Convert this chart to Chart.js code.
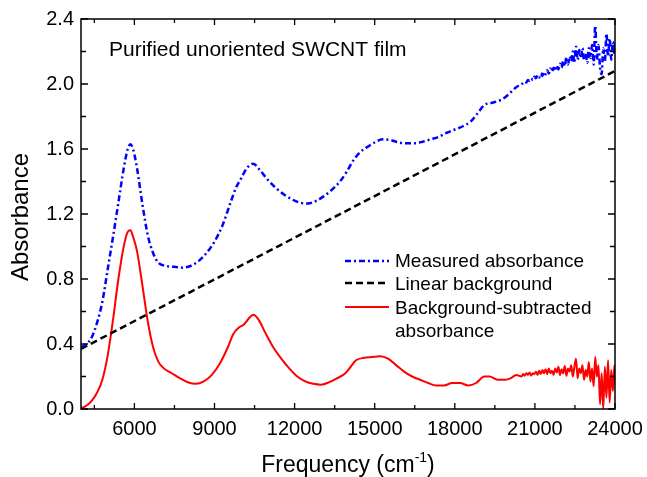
<!DOCTYPE html>
<html>
<head>
<meta charset="utf-8">
<script src="https://cdn.jsdelivr.net/npm/chart.js@4.4.1/dist/chart.umd.min.js"></script>
<style>
  html, body { margin: 0; padding: 0; background: #fff; }
  #wrap { width: 647px; height: 477px; }
</style>
</head>
<body>
<div id="wrap"><canvas id="absChart" width="647" height="477"></canvas></div>
<script>
// axis tick labels
const freqTicks = [6000, 9000, 12000, 15000, 18000, 21000, 24000];
const absTicks = [0.0, 0.4, 0.8, 1.2, 1.6, 2.0, 2.4];

// measured absorbance (blue, dash-dot)
const measuredFreq = [4000, 4200, 4400, 4600, 4800, 5000, 5200, 5400, 5600, 5750, 5850, 5950, 6100, 6300, 6500, 6700, 6900, 7200, 7500, 7800,
  8100, 8400, 8700, 9000, 9300, 9600, 9800, 10000, 10200, 10450, 10700, 11000, 11300, 11600, 11900, 12200, 12500, 12800, 13100, 13400,
  13700, 13950, 14200, 14450, 14700, 15000, 15300, 15600, 15900, 16200, 16500, 16800, 17100, 17400, 17700, 18000, 18300, 18600, 18900, 19100,
  19400, 19700, 19900, 20100, 20300,
  20500, 20560, 20620, 20680, 20740, 20800, 20860, 20920, 20980, 21040, 21100, 21160, 21220, 21280, 21340, 21400, 21460, 21520, 21580, 21640,
  21700, 21760, 21820, 21880, 21940, 22000, 22060, 22120, 22180, 22240, 22300, 22360, 22420, 22480, 22540, 22600, 22660, 22720, 22780, 22840,
  22900, 22960, 23020, 23080, 23140, 23200, 23260, 23320, 23380, 23440, 23500, 23560, 23620, 23680, 23740, 23800, 23860, 23920, 23980, 24000];
const measuredAbs = [0.38, 0.40, 0.44, 0.53, 0.66, 0.86, 1.06, 1.27, 1.48, 1.60, 1.63, 1.60, 1.48, 1.26, 1.07, 0.96, 0.90, 0.88, 0.875, 0.87,
  0.88, 0.91, 0.96, 1.03, 1.13, 1.27, 1.36, 1.42, 1.48, 1.51, 1.47, 1.41, 1.36, 1.32, 1.29, 1.27, 1.265, 1.28, 1.31, 1.35,
  1.40, 1.46, 1.53, 1.58, 1.61, 1.64, 1.66, 1.655, 1.64, 1.635, 1.635, 1.645, 1.66, 1.675, 1.70, 1.72, 1.74, 1.77, 1.83, 1.87,
  1.885, 1.90, 1.92, 1.95, 1.98,
  2.00, 2.005, 2.015, 2.01, 2.025, 2.02, 2.035, 2.025, 2.045, 2.035, 2.055, 2.04, 2.065, 2.05, 2.075, 2.06, 2.085, 2.065, 2.095, 2.075,
  2.10, 2.08, 2.115, 2.09, 2.125, 2.10, 2.14, 2.11, 2.165, 2.12, 2.17, 2.14, 2.20, 2.13, 2.23, 2.15, 2.21, 2.16, 2.22, 2.15,
  2.19, 2.13, 2.22, 2.16, 2.24, 2.12, 2.36, 2.15, 2.24, 2.10, 2.06, 2.22, 2.14, 2.31, 2.17, 2.28, 2.15, 2.26, 2.18, 2.25];

// linear background (black, dashed)
const backgroundFreq = [4000, 24000];
const backgroundAbs = [0.37, 2.08];

// background-subtracted absorbance (red, solid)
const subtractedFreq = [4000, 4200, 4400, 4600, 4800, 5000, 5200, 5400, 5600, 5750, 5850, 5950, 6100, 6300, 6500, 6700, 6900, 7100, 7400, 7700,
  8000, 8300, 8600, 8900, 9200, 9500, 9700, 9900, 10100, 10300, 10450, 10650, 10900, 11200, 11500, 11800, 12100, 12400, 12700, 13000,
  13300, 13600, 13900, 14100, 14300, 14600, 14900, 15200, 15500, 15800, 16100, 16400, 16700, 17000, 17300, 17600, 17900, 18200, 18500, 18800,
  19100, 19300, 19600, 19900, 20100, 20300,
  20500, 20560, 20620, 20680, 20740, 20800, 20860, 20920, 20980, 21040, 21100, 21160, 21220, 21280, 21340, 21400, 21460, 21520, 21580, 21640,
  21700, 21760, 21820, 21880, 21940, 22000, 22060, 22120, 22180, 22240, 22300, 22360, 22420, 22480, 22540, 22600, 22660, 22720, 22780, 22840,
  22900, 22960, 23020, 23080, 23140, 23200, 23260, 23320, 23380, 23440, 23500, 23560, 23620, 23680, 23740, 23800, 23860, 23920, 23980, 24000];
const subtractedAbs = [0.005, 0.02, 0.05, 0.10, 0.18, 0.33, 0.55, 0.80, 1.00, 1.09, 1.10, 1.06, 0.97, 0.76, 0.54, 0.38, 0.29, 0.25, 0.22, 0.19,
  0.165, 0.155, 0.17, 0.21, 0.28, 0.38, 0.46, 0.50, 0.52, 0.56, 0.58, 0.55, 0.47, 0.38, 0.31, 0.25, 0.20, 0.17, 0.155, 0.15,
  0.165, 0.19, 0.22, 0.26, 0.30, 0.315, 0.32, 0.325, 0.31, 0.27, 0.23, 0.20, 0.18, 0.16, 0.145, 0.145, 0.16, 0.16, 0.145, 0.16,
  0.20, 0.20, 0.18, 0.18, 0.19, 0.21,
  0.20, 0.215, 0.205, 0.22, 0.21, 0.225, 0.205, 0.22, 0.215, 0.23, 0.21, 0.235, 0.215, 0.24, 0.22, 0.245, 0.215, 0.25, 0.22, 0.235,
  0.21, 0.25, 0.225, 0.26, 0.21, 0.245, 0.22, 0.265, 0.205, 0.25, 0.23, 0.27, 0.20, 0.26, 0.31, 0.19, 0.25, 0.22, 0.27, 0.18,
  0.24, 0.20, 0.29, 0.17, 0.25, 0.14, 0.32, 0.20, 0.27, 0.03, 0.22, 0.0, 0.26, 0.07, 0.30, 0.04, 0.24, 0.11, 0.27, 0.15];

const FONT = '"Liberation Sans", Arial, sans-serif';

function toPoints(xs, ys) {
  return xs.map((v, i) => ({x: v, y: ys[i]}));
}

const data = {
  datasets: [{
    label: 'Measured absorbance',
    data: toPoints(measuredFreq, measuredAbs),
    borderColor: '#0000ff',
    borderWidth: 2.5,
    borderDash: [6, 3, 2, 3],
    cubicInterpolationMode: 'monotone',
    pointRadius: 0,
  }, {
    label: 'Linear background',
    data: toPoints(backgroundFreq, backgroundAbs),
    borderColor: '#000000',
    borderWidth: 2.5,
    borderDash: [7, 4],
    pointRadius: 0,
  }, {
    label: 'Background-subtracted absorbance',
    data: toPoints(subtractedFreq, subtractedAbs),
    borderColor: '#ff0000',
    borderWidth: 2,
    cubicInterpolationMode: 'monotone',
    pointRadius: 0,
  }]
};

// frame, inward ticks, legend and titles
const decorPlugin = {
  id: 'decor',
  afterDraw(chart) {
    const {ctx, chartArea: a, scales: {x, y}} = chart;
    ctx.save();
    ctx.strokeStyle = '#000';
    ctx.lineWidth = 1.5;
    ctx.strokeRect(a.left, a.top, a.right - a.left, a.bottom - a.top);

    ctx.lineWidth = 1.3;
    ctx.beginPath();
    const xMinor = [4500].concat(freqTicks.slice(1).map((v, i) => (v + freqTicks[i]) / 2));
    freqTicks.concat(xMinor).forEach(v => {
      const px = x.getPixelForValue(v);
      const len = freqTicks.includes(v) ? 6 : 4;
      ctx.moveTo(px, a.bottom); ctx.lineTo(px, a.bottom - len);
      ctx.moveTo(px, a.top); ctx.lineTo(px, a.top + len);
    });
    const yMinor = absTicks.slice(1).map((v, i) => (v + absTicks[i]) / 2);
    absTicks.concat(yMinor).forEach(v => {
      const py = y.getPixelForValue(v);
      const len = absTicks.includes(v) ? 7 : 5;
      ctx.moveTo(a.left, py); ctx.lineTo(a.left + len, py);
      ctx.moveTo(a.right, py); ctx.lineTo(a.right - len, py);
    });
    ctx.stroke();

    // legend
    const rows = [
      {ds: 0, lineY: 261, text: ['Measured absorbance'], textY: [267]},
      {ds: 1, lineY: 283, text: ['Linear background'], textY: [290]},
      {ds: 2, lineY: 307, text: ['Background-subtracted', 'absorbance'], textY: [314, 337]},
    ];
    ctx.fillStyle = '#000';
    ctx.font = '19px ' + FONT;
    ctx.textBaseline = 'alphabetic';
    ctx.textAlign = 'left';
    rows.forEach(r => {
      const ds = chart.data.datasets[r.ds];
      ctx.save();
      ctx.strokeStyle = ds.borderColor;
      ctx.lineWidth = ds.borderWidth;
      ctx.setLineDash(ds.borderDash || []);
      ctx.beginPath();
      ctx.moveTo(345, r.lineY);
      ctx.lineTo(389, r.lineY);
      ctx.stroke();
      ctx.restore();
      r.text.forEach((t, i) => ctx.fillText(t, 395, r.textY[i]));
    });

    // label inside the plot
    ctx.font = '21px ' + FONT;
    ctx.fillText('Purified unoriented SWCNT film', 109, 56);

    // x title with superscript
    const cx = (a.left + a.right) / 2;
    ctx.font = '23px ' + FONT;
    const part1 = 'Frequency (cm';
    const w1 = ctx.measureText(part1).width;
    const w3 = ctx.measureText(')').width;
    ctx.font = '14px ' + FONT;
    const w2 = ctx.measureText('-1').width;
    let sx = cx - (w1 + w2 + w3) / 2;
    ctx.font = '23px ' + FONT;
    ctx.fillText(part1, sx, 472);
    ctx.font = '14px ' + FONT;
    ctx.fillText('-1', sx + w1, 462);
    ctx.font = '23px ' + FONT;
    ctx.fillText(')', sx + w1 + w2, 472);

    // y title
    ctx.translate(28, (a.top + a.bottom) / 2 + 3);
    ctx.rotate(-Math.PI / 2);
    ctx.textAlign = 'center';
    ctx.font = '24px ' + FONT;
    ctx.fillText('Absorbance', 0, 0);
    ctx.restore();
  }
};

const config = {
  type: 'line',
  data,
  options: {
    responsive: false,
    animation: false,
    layout: {padding: {top: 19, right: 32, left: 0, bottom: 0}},
    plugins: {
      legend: {display: false},
      tooltip: {enabled: false},
    },
    scales: {
      x: {
        type: 'linear',
        min: 4000,
        max: 24000,
        afterBuildTicks: (s) => { s.ticks = freqTicks.map(v => ({value: v})); },
        afterFit: (s) => { s.height = 68; s.paddingLeft = 0; s.paddingRight = 0; },
        ticks: {
          color: '#000',
          font: {family: FONT, size: 20},
          padding: 8,
          maxRotation: 0,
          autoSkip: false,
          callback: (v) => String(v),
        },
        grid: {display: false, drawTicks: false},
        border: {display: false},
      },
      y: {
        type: 'linear',
        min: 0,
        max: 2.4,
        afterBuildTicks: (s) => { s.ticks = absTicks.map(v => ({value: v})); },
        afterFit: (s) => { s.width = 81; s.paddingTop = 0; s.paddingBottom = 0; },
        ticks: {
          color: '#000',
          font: {family: FONT, size: 20},
          padding: 7,
          callback: (v) => v.toFixed(1),
        },
        grid: {display: false, drawTicks: false},
        border: {display: false},
      }
    }
  },
  plugins: [decorPlugin]
};

const absChart = new Chart(document.getElementById('absChart'), config);
</script>
</body>
</html>
